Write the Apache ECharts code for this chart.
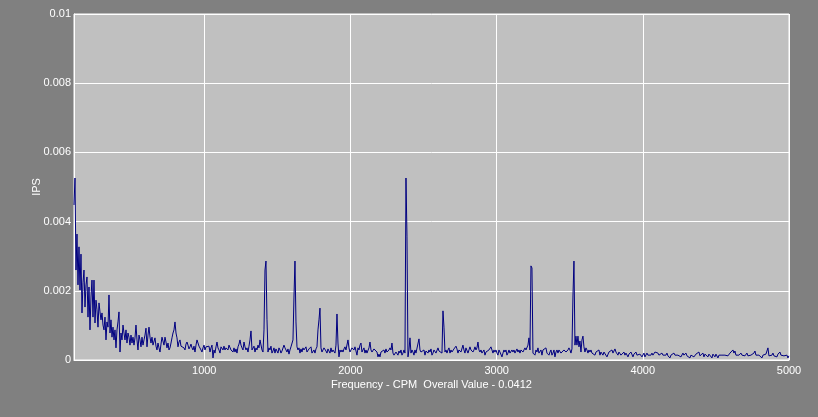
<!DOCTYPE html>
<html>
<head>
<meta charset="utf-8">
<script src="https://cdn.jsdelivr.net/npm/echarts@6/dist/echarts.min.js"></script>
<style>
html,body{margin:0;padding:0;background:#808080;}
#chart{width:818px;height:417px;}
</style>
</head>
<body>
<div id="chart"></div>
<script>
// Spectrum bins (CPM)
const freqStart = 109;
const freqStep = 6.84;
const freqMin = 109;
const freqMax = 5000;
// Amplitude per bin (IPS)
const ips = [
.00448,.00526,.0026,.00364,.00217,.00327,.00202,.00306,.00136,.00223,.0026,.00153,.00217,.0024,.00124,.00211,.00087,.00182,.00231,.00124,
.00231,.00107,.00173,.00145,.00095,.00165,.00139,.00116,.00136,.00101,.00087,.00124,.00058,.0011,.00095,.00188,.00078,.00116,.00066,.00095,
.00058,.00087,.00035,.00087,.0011,.00139,.00023,.00078,.00058,.00101,.00078,.00058,.00087,.00049,.00078,.00066,.00043,.00072,.00049,.00066,
.00043,.00064,.00101,.00058,.00029,.00072,.00058,.00038,.00066,.00043,.00058,.00072,.00092,.00038,.00072,.00095,.00066,.00049,.00066,.00043,
.00043,.00064,.0004,.00029,.00049,.00035,.00023,.00046,.00066,.00064,.00043,.00066,.00052,.00035,.00049,.00029,.00035,.00049,.00064,.00078,
.00087,.0011,.00078,.00064,.00038,.00052,.00058,.0004,.00038,.00043,.00035,.00029,.00046,.00052,.00043,.00032,.00038,.00046,.00035,.00029,
.0004,.00023,.00043,.00058,.00055,.0004,.00038,.00029,.00023,.00035,.00043,.00029,.00038,.00043,.00035,.0004,.00023,.00035,.00043,.00006,
.00029,.0002,.00038,.00052,.00035,.00029,.0002,.00038,.00043,.00029,.0004,.00029,.00035,.00038,.00029,.00043,.00038,.00029,.00029,.00023,
.00035,.00023,.00032,.0002,.00038,.00046,.00058,.00043,.00035,.00029,.00052,.00038,.00029,.00035,.00023,.0004,.00058,.00084,.00029,.00029,
.0004,.00023,.00035,.00029,.00043,.00035,.00058,.00061,.00029,.00023,.00087,.0026,.00286,.00118,.00023,.00035,.00029,.0004,.0002,.00026,
.00035,.0002,.00032,.00029,.0002,.00035,.00029,.0002,.00026,.00029,.00043,.00035,.00029,.00023,.00032,.00017,.00029,.00038,.00038,.00058,
.00182,.00286,.0011,.00038,.00029,.00035,.0002,.00032,.00023,.00035,.00029,.00029,.00038,.00023,.0002,.00032,.00029,.00038,.0002,.0002,
.00029,.0002,.00032,.00038,.00087,.00116,.0015,.00035,.00023,.00029,.00035,.00035,.00026,.0002,.00032,.00026,.0002,.00035,.00023,.00029,
.00032,.0002,.00043,.00133,.00049,.00009,.00029,.00023,.00029,.00023,.00032,.00038,.00029,.00029,.00058,.00035,.00023,.0002,.00035,.00035,
.00029,.00038,.00026,.00014,.00035,.00029,.00043,.00049,.00023,.00029,.00035,.0002,.00029,.0002,.0002,.00035,.00052,.00029,.00023,.0002,
.00032,.00029,.00035,.00023,.00009,.00017,.00009,.00023,.0002,.0002,.00029,.0002,.00032,.00023,.0002,.00029,.00035,.00029,.00049,.0002,
.00014,.00009,.00023,.0002,.00014,.00026,.0002,.00029,.00014,.0002,.00029,.0002,.00526,.00358,.00009,.00029,.00064,.0002,.00029,.00023,
.00014,.00029,.0002,.0002,.00023,.00061,.00029,.00023,.0002,.00023,.00029,.00014,.00026,.00029,.0002,.00029,.00023,.00032,.00014,.0002,
.00029,.00029,.0002,.0002,.00035,.00026,.00023,.00029,.0002,.00142,.00095,.00023,.00029,.0002,.00029,.00035,.0002,.00029,.00023,.0002,
.00032,.00029,.0004,.00032,.0002,.00029,.00032,.00023,.00023,.00043,.00029,.0002,.00035,.00035,.0002,.00029,.00038,.00029,.00032,.00023,
.00029,.00038,.00029,.00035,.00052,.00029,.00023,.00029,.0002,.00017,.00029,.00014,.00023,.00023,.0002,.00029,.00029,.00038,.00035,.0002,
.00029,.00023,.00029,.0002,.00014,.00029,.00023,.0002,.00009,.0002,.00029,.00023,.00029,.00014,.0002,.00029,.0002,.00023,.00029,.00023,
.00029,.0002,.00023,.00032,.00023,.00029,.0002,.00029,.00029,.00023,.00029,.00035,.00029,.00029,.00043,.00064,.00029,.00272,.00266,.0002,
.00023,.00014,.00029,.00023,.00035,.0002,.00023,.00029,.00014,.00029,.00029,.00032,.00035,.0002,.00023,.00014,.00023,.00029,.00014,.0002,
.00029,.00009,.00023,.00029,.0002,.00029,.00029,.0002,.0002,.00023,.00029,.00029,.00023,.00026,.00029,.00035,.00029,.0002,.00032,.00185,
.00286,.00043,.00069,.00043,.00069,.00038,.00055,.00023,.00058,.00069,.00038,.00023,.00035,.00029,.0002,.00029,.00023,.00029,.0002,.00023,
.0002,.00014,.00023,.0002,.00023,.00029,.00014,.00023,.0002,.00014,.00023,.0002,.00023,.00009,.00014,.00023,.0002,.00023,.00029,.0002,
.00023,.00032,.00023,.00023,.00014,.00023,.0002,.00014,.00009,.00017,.00023,.00014,.0002,.0002,.00009,.00017,.00014,.00023,.0002,.00009,
.00017,.0002,.00023,.00014,.00009,.00017,.00017,.00014,.00009,.00014,.0002,.00009,.00014,.0002,.00014,.00017,.00009,.00014,.0002,.00014,
.00017,.00023,.00026,.00023,.0002,.00014,.00017,.00012,.0002,.00014,.00009,.00017,.00014,.0002,.00012,.00017,.00006,.00014,.00017,.00012,
.0002,.00014,.00009,.00017,.00014,.00012,.00017,.00009,.00014,.0002,.00014,.00017,.0002,.00012,.00017,.00009,.00006,.00014,.00012,.00017,
.00009,.00014,.00017,.0002,.00014,.00023,.00012,.00017,.00014,.0002,.00009,.00017,.00012,.00014,.00009,.00017,.00014,.00012,.00006,.00017,
.00014,.00009,.00017,.00012,.00006,.00014,.00017,.00009,.00014,.00012,.00017,.00014,.00009,.00017,.00012,.00014,.0002,.00023,.00017,.00029,
.0002,.00026,.00014,.00017,.00009,.00014,.00012,.0002,.00014,.00009,.00017,.00012,.00014,.0002,.00012,.00017,.00009,.00014,.00017,.00012,
.0002,.00026,.00014,.00017,.00009,.00014,.00012,.00017,.00006,.00014,.00012,.00009,.00017,.00014,.00035,.00012,.00017,.00009,.00014,.0002,
.00012,.00017,.00014,.00009,.00017,.00012,.00023,.00014,.00009,.00017,.00012,.00014,.00009,.00014,.00006,.00012
];
const yMin = 0, yMax = 0.01, yStep = 0.002;
const xTitle = 'Frequency - CPM  Overall Value - 0.0412';
const yTitle = 'IPS';

const seriesData = ips.map((v, i) => [freqStart + i * freqStep, v]);
const font = "'Liberation Sans', Arial, sans-serif";

const chart = echarts.init(document.getElementById('chart'), null, {renderer: 'canvas'});
chart.setOption({
  animation: false,
  backgroundColor: '#808080',
  grid: {
    left: 74, right: 29, top: 14, bottom: 57,
    show: true, backgroundColor: '#c0c0c0', borderColor: '#ffffff', borderWidth: 1
  },
  xAxis: {
    type: 'value', min: freqMin, max: freqMax, splitNumber: 5,
    name: xTitle, nameLocation: 'middle', nameGap: 19, nameMoveOverlap: false,
    nameTextStyle: {color: '#ffffff', fontSize: 11, fontFamily: font},
    axisLine: {show: true, lineStyle: {color: '#ffffff', width: 1}},
    axisTick: {show: false},
    axisLabel: {color: '#ffffff', fontSize: 11, fontFamily: font, margin: 5, showMinLabel: false,
      formatter: v => String(Math.round(v))},
    splitLine: {show: true, lineStyle: {color: '#ffffff', width: 1}}
  },
  yAxis: {
    type: 'value', min: yMin, max: yMax, interval: yStep,
    name: yTitle, nameLocation: 'middle', nameGap: 32, nameRotate: 90, nameMoveOverlap: false,
    nameTextStyle: {color: '#ffffff', fontSize: 11, fontFamily: font},
    axisLine: {show: true, lineStyle: {color: '#ffffff', width: 1}},
    axisTick: {show: false},
    axisLabel: {color: '#ffffff', fontSize: 11, fontFamily: font, margin: 3,
      formatter: v => v === 0 ? '0' : String(+v.toFixed(3))},
    splitLine: {show: true, lineStyle: {color: '#ffffff', width: 1}}
  },
  series: [{
    type: 'line', data: seriesData, showSymbol: false, symbol: 'none',
    sampling: null, smooth: false,
    lineStyle: {color: '#000080', width: 1}
  }]
});
</script>
</body>
</html>
